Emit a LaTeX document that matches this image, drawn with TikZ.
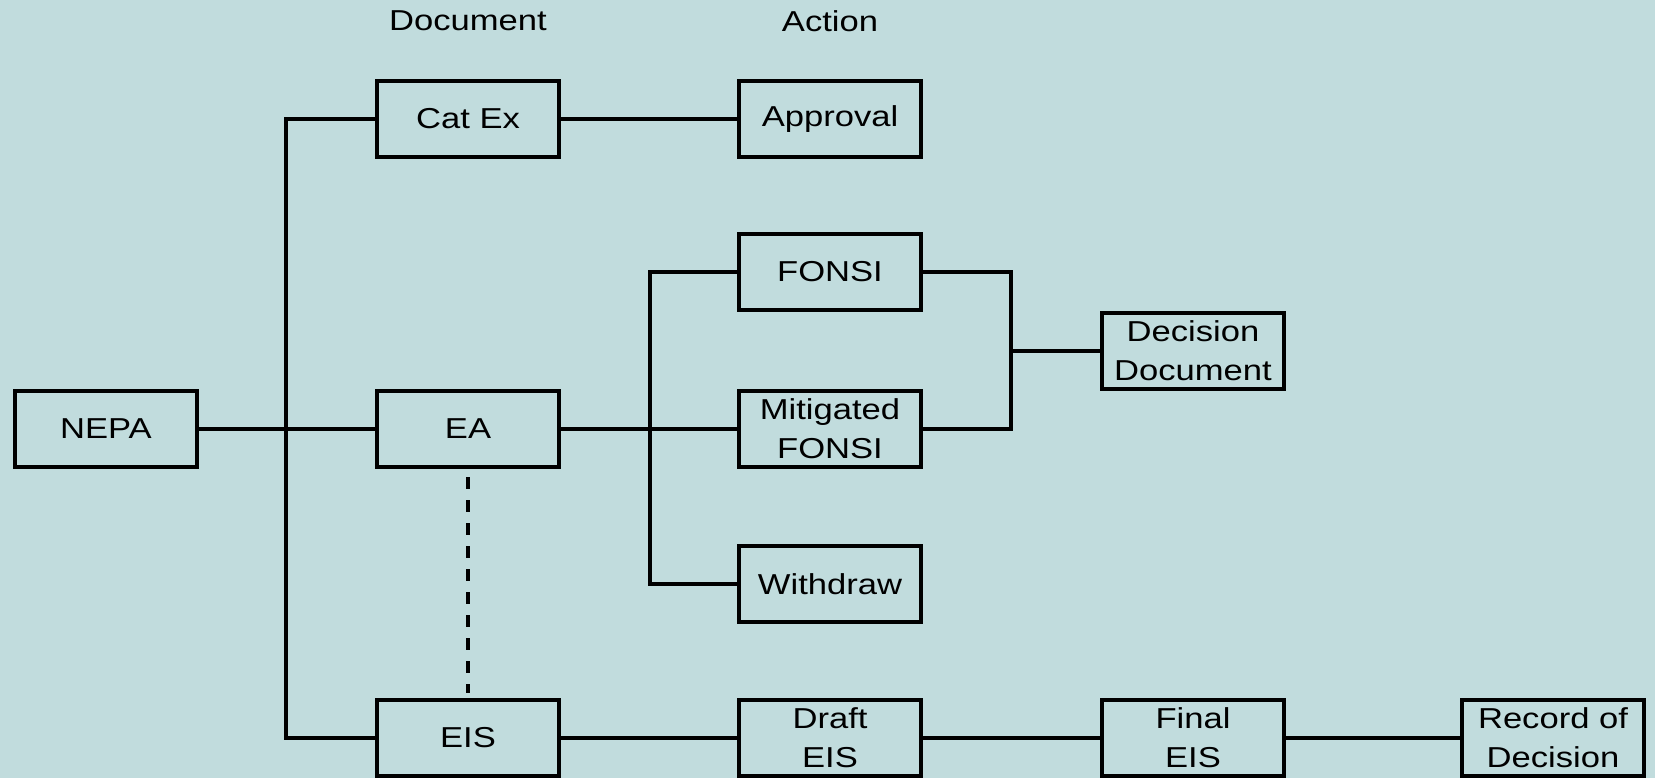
\documentclass[tikz,border=0pt]{standalone}
\usepackage{fontspec}
\setmainfont{Liberation Sans}[FakeStretch=1.2]
\definecolor{bgcol}{RGB}{193,220,221}
\tikzset{
  box/.style={draw=black, line width=1.3pt, minimum width=1.82cm, minimum height=0.76cm,
              inner sep=0pt, align=center, font=\fontsize{8.2}{11.1}\selectfont},
  head/.style={font=\fontsize{8.2}{11.1}\selectfont, inner sep=0pt},
  link/.style={draw=black, line width=1.15pt},
  dashlink/.style={draw=black, line width=1.4pt, dash pattern=on 1.2mm off 1.1mm}
}
\begin{document}
\begin{tikzpicture}[x=0.1mm, y=-0.1mm]
  % canvas
  \fill[bgcol] (0,0) rectangle (1655,778);
  \useasboundingbox (0,0) rectangle (1655,778);

  % column headings
  \node[head] (hdoc) at (468,21) {Document};
  \node[head] (hact) at (830,21) {Action};

  % boxes
  \node[box] (nepa)     at (106,429)  {NEPA};
  \node[box] (catex)    at (468,119)  {Cat Ex};
  \node[box] (ea)       at (468,429)  {EA};
  \node[box] (eis)      at (468,738)  {EIS};
  \node[box] (approval) at (830,119)  {Approval};
  \node[box] (fonsi)    at (830,272)  {FONSI};
  \node[box] (mfonsi)   at (830,429)  {Mitigated\\FONSI};
  \node[box] (withdraw) at (830,584)  {Withdraw};
  \node[box] (draft)    at (830,738)  {Draft\\EIS};
  \node[box] (decision) at (1193,351) {Decision\\Document};
  \node[box] (final)    at (1193,738) {Final\\EIS};
  \node[box] (rod)      at (1553,738) {Record of\\Decision};

  % branch points
  \coordinate (ja) at (286,429);
  \coordinate (jb) at (650,429);
  \coordinate (jc) at (1011,351);

  % connectors
  \draw[link] (catex.west) -| (ja) |- (eis.west);
  \draw[link] (nepa.east) -- (ea.west);
  \draw[link] (catex.east) -- (approval.west);
  \draw[link] (fonsi.west) -| (jb) |- (withdraw.west);
  \draw[link] (ea.east) -- (mfonsi.west);
  \draw[link] (fonsi.east) -| (jc) |- (mfonsi.east);
  \draw[link] (jc) -- (decision.west);
  \draw[link] (eis.east) -- (draft.west);
  \draw[link] (draft.east) -- (final.west);
  \draw[link] (final.east) -- (rod.west);
  \draw[dashlink, shorten <=0.8mm, shorten >=0.5mm] (ea.south) -- (eis.north);
\end{tikzpicture}
\end{document}
